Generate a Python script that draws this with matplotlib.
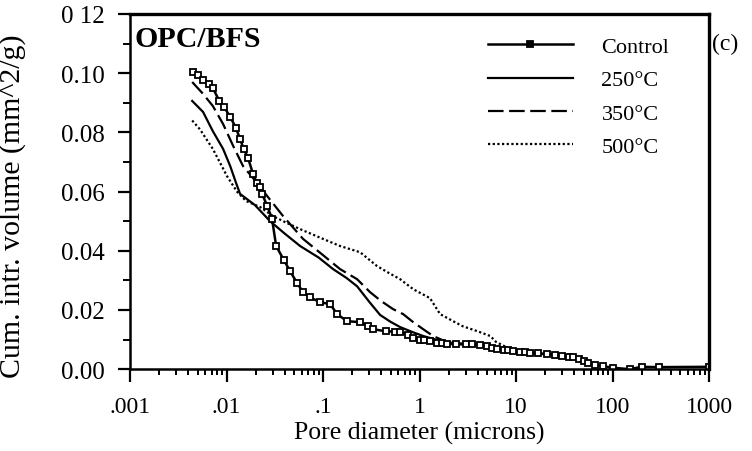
import matplotlib
matplotlib.use("Agg")
import matplotlib.pyplot as plt
from matplotlib.ticker import FixedLocator, MultipleLocator, NullFormatter, LogLocator

plt.rcParams['font.family'] = ['Liberation Serif', 'DejaVu Serif']

# Cumulative intrusion volume vs pore diameter, OPC/BFS paste
ctrl_d = [0.0045, 0.0050, 0.0057, 0.0065, 0.0072, 0.0084, 0.0094, 0.0109, 0.0125,
          0.0138, 0.0150, 0.0167, 0.0188, 0.0205, 0.0222, 0.0233, 0.0265, 0.0296,
          0.0326, 0.0390, 0.0455, 0.0540, 0.0620, 0.0730, 0.0930, 0.118, 0.140,
          0.177, 0.242, 0.290, 0.330, 0.45, 0.55, 0.63, 0.75, 0.86, 1.0, 1.1, 1.28,
          1.5, 1.7, 1.93, 2.4, 3.0, 3.5, 4.2, 5.0, 5.6, 6.4, 7.5, 8.2, 9.3, 11,
          12.5, 14, 17, 21, 25, 30, 35, 39, 45, 50, 55, 65, 80, 100, 150, 200,
          300, 1000]
ctrl_v = [0.1005, 0.0995, 0.0977, 0.0962, 0.0950, 0.0906, 0.0886, 0.0852, 0.0815,
          0.0777, 0.0745, 0.0713, 0.0659, 0.0630, 0.0615, 0.0592, 0.0550, 0.0507,
          0.0416, 0.0370, 0.0331, 0.0290, 0.0260, 0.0243, 0.0226, 0.0220, 0.0186,
          0.0162, 0.0159, 0.0145, 0.0135, 0.0128, 0.0127, 0.0125, 0.0115, 0.0105,
          0.0100, 0.0097, 0.0095, 0.0090, 0.0087, 0.0085, 0.0085, 0.0084, 0.0084,
          0.0083, 0.0078, 0.0073, 0.0068, 0.0065, 0.0064, 0.0062, 0.0059, 0.0057,
          0.0056, 0.0053, 0.0051, 0.0048, 0.0045, 0.0042, 0.0040, 0.0035, 0.0028,
          0.0022, 0.0015, 0.0010, 0.0005, 0.0000, 0.0008, 0.0007, 0.0008]

t250_d = [0.0044, 0.0057, 0.0072, 0.0092, 0.0109, 0.0125, 0.0138, 0.0197, 0.0282,
          0.0400, 0.0578, 0.090, 0.127, 0.175, 0.225, 0.30, 0.39, 0.50, 0.63, 0.85,
          1.09, 1.84, 4.2, 9.3, 21, 45]
t250_v = [0.0906, 0.0869, 0.0804, 0.0744, 0.0686, 0.0630, 0.0592, 0.0554, 0.0500,
          0.0458, 0.0416, 0.0377, 0.0338, 0.0308, 0.0280, 0.0228, 0.0183, 0.0160,
          0.0142, 0.0125, 0.0112, 0.0091, 0.0082, 0.0061, 0.0050, 0.0033]

t350_d = [0.0044, 0.0057, 0.0072, 0.0092, 0.0117, 0.0148, 0.0212, 0.0263, 0.0385,
          0.062, 0.100, 0.150, 0.225, 0.307, 0.40, 0.53, 0.675, 0.85, 1.09, 1.38,
          2.07, 4.2, 9.3, 21, 45]
t350_v = [0.0970, 0.0930, 0.0889, 0.0828, 0.0754, 0.0686, 0.0625, 0.0585, 0.0517,
          0.0440, 0.0385, 0.0338, 0.0304, 0.0260, 0.0230, 0.0203, 0.0186, 0.0160,
          0.0135, 0.0112, 0.0087, 0.0080, 0.0060, 0.0050, 0.0033]

t500_d = [0.0044, 0.0053, 0.0072, 0.0101, 0.0128, 0.0159, 0.0222, 0.0303, 0.0420,
          0.0578, 0.100, 0.150, 0.242, 0.300, 0.363, 0.480, 0.628, 0.86, 1.28, 1.63,
          2.2, 2.8, 4.0, 5.4, 6.2, 9.3, 21, 45]
t500_v = [0.0840, 0.0810, 0.0744, 0.0652, 0.0600, 0.0568, 0.0548, 0.0517, 0.0494,
          0.0473, 0.0440, 0.0416, 0.0395, 0.0370, 0.0348, 0.0325, 0.0304, 0.0270,
          0.0240, 0.0186, 0.0163, 0.0145, 0.0128, 0.0112, 0.0092, 0.0063, 0.0052,
          0.0034]

x_ticks = [0.001, 0.01, 0.1, 1, 10, 100, 1000]
x_tick_labels = ['.001', '.01', '.1', '1', '10', '100', '1000']
y_ticks = [0.00, 0.02, 0.04, 0.06, 0.08, 0.10, 0.12]
y_tick_labels = ['0.00', '0.02', '0.04', '0.06', '0.08', '0.10', '0 12']

fig = plt.figure(figsize=(7.52, 4.52), dpi=100)
ax = fig.add_axes([0.173, 0.181, 0.770, 0.786])

ax.plot(t250_d, t250_v, color='k', lw=1.6, label='250°C')
ax.plot(t350_d, t350_v, color='k', lw=1.6, dashes=(7, 2.5), label='350°C')
ax.plot(t500_d, t500_v, color='k', lw=1.6, dashes=(1, 1.1), label='500°C')
ctrl, = ax.plot(ctrl_d, ctrl_v, color='k', lw=1.8, marker='s', ms=4.6,
                mfc='white', mec='k', mew=1.3, label='Control')

ax.set_xscale('log')
ax.set_xlim(0.001, 1000)
ax.set_ylim(0.0, 0.12)

ax.xaxis.set_major_locator(FixedLocator(x_ticks))
ax.set_xticklabels(x_tick_labels)
ax.xaxis.set_minor_locator(LogLocator(base=10, subs=range(2, 10)))
ax.xaxis.set_minor_formatter(NullFormatter())
ax.set_yticks(y_ticks)
ax.set_yticklabels(y_tick_labels)
ax.yaxis.set_minor_locator(MultipleLocator(0.01))

ax.tick_params(axis='both', which='major', direction='out', width=1.6, colors='k')
ax.tick_params(axis='x', which='major', length=9, pad=10, labelsize=17)
ax.tick_params(axis='y', which='major', length=9, pad=9, labelsize=18)
ax.tick_params(axis='x', which='minor', direction='out', length=4, width=1.4)
ax.tick_params(axis='y', which='minor', direction='out', length=5, width=1.4)

for side in ['left', 'bottom']:
    ax.spines[side].set_linewidth(1.8)
for side in ['top', 'right']:
    ax.spines[side].set_linewidth(2.4)

ax.set_xlabel('Pore diameter (microns)', fontsize=18.5, labelpad=3)
ax.set_ylabel('Cum. intr. volume (mm^2/g)', fontsize=21.5)
ax.yaxis.set_label_coords(-0.180, 0.462)

ax.text(0.008, 0.93, 'OPC/BFS', transform=ax.transAxes, fontsize=21.5,
        fontweight='bold', ha='left', va='center')
fig.text(0.947, 0.902, '(c)', fontsize=17, ha='left', va='center')

leg = ax.legend(handles=[ctrl] + ax.get_lines()[:3], loc='upper left',
                bbox_to_anchor=(0.603, 0.962), frameon=False, fontsize=16,
                handlelength=3.8, handletextpad=1.3, labelspacing=0.58,
                numpoints=1, borderaxespad=0)
leg.legend_handles[0].set_markerfacecolor('k')
leg.legend_handles[0].set_markersize(4)

fig.savefig('out.png', dpi=100)
